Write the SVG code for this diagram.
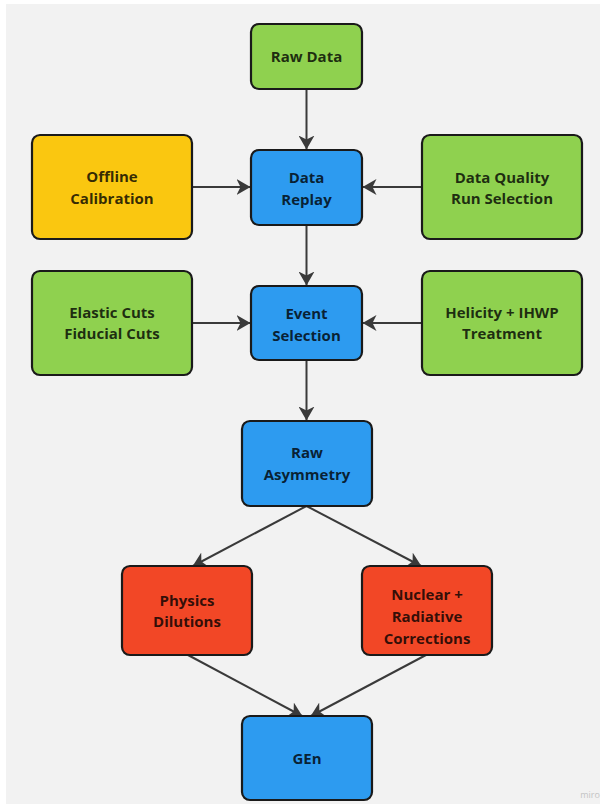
<svg xmlns="http://www.w3.org/2000/svg" width="605" height="807" viewBox="0 0 605 807">
<style>
.box{stroke:#1a1a1a;stroke-width:2.2}
.g{fill:#8fd14f}.y{fill:#fac710}.b{fill:#2d9bf0}.r{fill:#f24726}
.t{font-family:"Open Sans","Noto Sans",sans-serif;font-weight:700;font-size:15px;fill:#000;fill-opacity:0.8;text-anchor:middle}
.c{stroke:#3a3a3a;stroke-width:2;fill:none;marker-end:url(#ah)}
</style>
<defs>
<marker id="ah" markerUnits="userSpaceOnUse" viewBox="0 0 14 16" refX="13.5" refY="8" markerWidth="14" markerHeight="16" orient="auto">
<path d="M0,0 L14,8 L0,16 L4,8 z" fill="#3a3a3a"/>
</marker>
</defs>
<rect x="0" y="0" width="605" height="807" fill="#ffffff"/>
<rect x="6" y="4" width="594" height="800" fill="#f2f2f2"/>
<g id="connectors">
<line class="c" x1="306.5" y1="89" x2="306.5" y2="149"/>
<line class="c" x1="192" y1="187" x2="250" y2="187"/>
<line class="c" x1="422" y1="187" x2="363" y2="187"/>
<line class="c" x1="306.5" y1="225" x2="306.5" y2="285"/>
<line class="c" x1="192" y1="323" x2="250" y2="323"/>
<line class="c" x1="422" y1="323" x2="363" y2="323"/>
<line class="c" x1="306.5" y1="360" x2="306.5" y2="420"/>
<line class="c" x1="306.5" y1="506" x2="193" y2="566"/>
<line class="c" x1="306.5" y1="506" x2="421" y2="566"/>
<line class="c" x1="188" y1="655" x2="302" y2="716"/>
<line class="c" x1="426" y1="655" x2="311" y2="716"/>
</g>
<g id="raw-data"><rect class="box g" x="251" y="24" width="111" height="65" rx="8"/><text class="t" x="306.5" y="62">Raw Data</text></g>
<g id="offline-calibration"><rect class="box y" x="32" y="135" width="160" height="104" rx="8"/><text class="t" x="112" y="182.4">Offline</text><text class="t" x="112" y="204.4">Calibration</text></g>
<g id="data-replay"><rect class="box b" x="251" y="150" width="111" height="75" rx="8"/><text class="t" x="306.5" y="183">Data</text><text class="t" x="306.5" y="205">Replay</text></g>
<g id="data-quality"><rect class="box g" x="422" y="135" width="160" height="104" rx="8"/><text class="t" x="502" y="182.6">Data Quality</text><text class="t" x="502" y="204.4">Run Selection</text></g>
<g id="elastic-cuts"><rect class="box g" x="32" y="271" width="160" height="104" rx="8"/><text class="t" x="112" y="318.2">Elastic Cuts</text><text class="t" x="112" y="339.2">Fiducial Cuts</text></g>
<g id="event-selection"><rect class="box b" x="251" y="286" width="111" height="74" rx="8"/><text class="t" x="306.5" y="319">Event</text><text class="t" x="306.5" y="341">Selection</text></g>
<g id="helicity"><rect class="box g" x="422" y="271" width="160" height="104" rx="8"/><text class="t" x="502" y="318.2">Helicity + IHWP</text><text class="t" x="502" y="339">Treatment</text></g>
<g id="raw-asymmetry"><rect class="box b" x="242" y="421" width="130" height="85" rx="8"/><text class="t" x="307" y="458">Raw</text><text class="t" x="307" y="479.5">Asymmetry</text></g>
<g id="physics-dilutions"><rect class="box r" x="122" y="566" width="130" height="89" rx="8"/><text class="t" x="187" y="605.5">Physics</text><text class="t" x="187" y="627">Dilutions</text></g>
<g id="nuclear-radiative"><rect class="box r" x="362" y="566" width="130" height="89" rx="8"/><text class="t" x="427" y="599.5">Nuclear +</text><text class="t" x="427" y="621.5">Radiative</text><text class="t" x="427" y="643.5">Corrections</text></g>
<g id="gen"><rect class="box b" x="242" y="716" width="130" height="84" rx="8"/><text class="t" x="307" y="764">GEn</text></g>
<text x="590" y="798" font-family="Open Sans, sans-serif" font-size="9" fill="#c4c4c4" text-anchor="middle">miro</text>
</svg>
